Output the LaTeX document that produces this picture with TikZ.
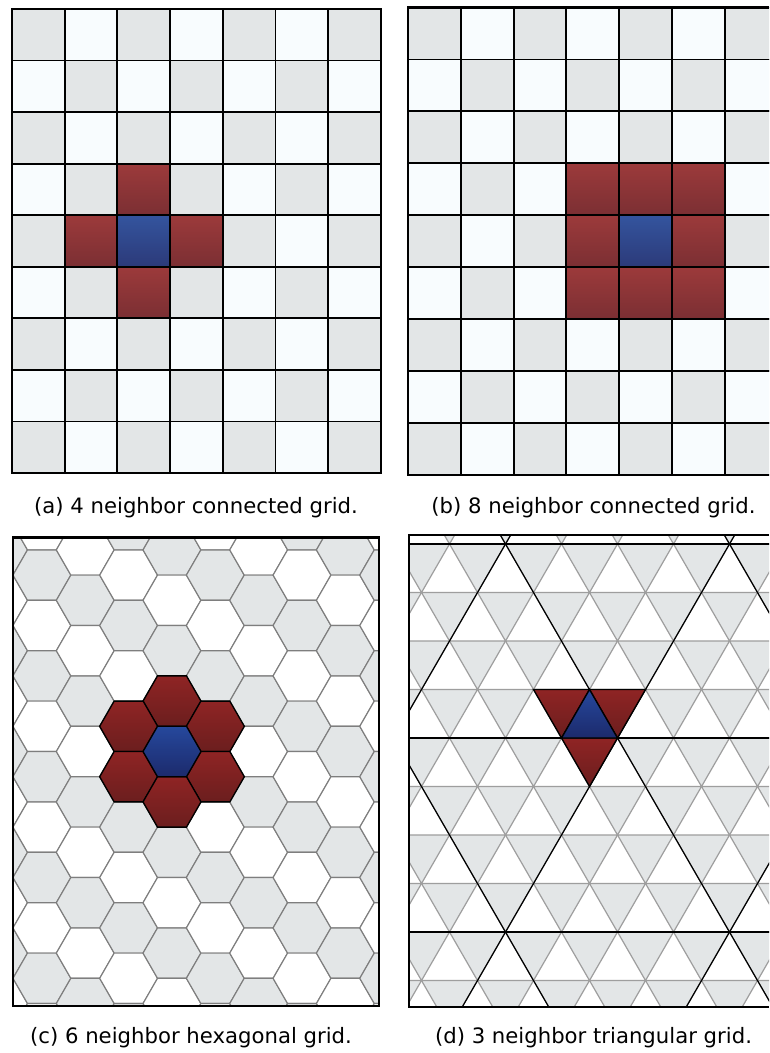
\documentclass[tikz,border=0pt]{standalone}
\usepackage{fontspec}
\setmainfont{DejaVu Sans}
\usepackage{xcolor}
\usepackage{tikz}
\usetikzlibrary{calc}

\definecolor{cellgray}{HTML}{E3E6E7}
\definecolor{cellwhite}{HTML}{F8FCFE}
\definecolor{nbtop}{HTML}{9C3A3B}
\definecolor{nbbot}{HTML}{7B2F33}
\definecolor{ctrtop}{HTML}{34549E}
\definecolor{ctrbot}{HTML}{2C3A79}
\definecolor{hnbtop}{HTML}{8F2424}
\definecolor{hnbbot}{HTML}{6B1E1E}
\definecolor{hctrtop}{HTML}{26489C}
\definecolor{hctrbot}{HTML}{1C2A6C}
\definecolor{edgegray}{HTML}{7E7E7E}
\definecolor{trigray}{HTML}{9E9E9E}

\newcommand{\hexcell}{+(-29,0) -- +(-14.5,-25.2) -- +(14.5,-25.2) -- +(29,0) -- +(14.5,25.2) -- +(-14.5,25.2) -- cycle}

\begin{document}
\begin{tikzpicture}[x=0.75pt, y=-0.75pt,
  caption/.style={font=\fontsize{15.9}{19}\selectfont, anchor=center},
  sqcell/.style={draw=black, line width=1.4pt},
  nbsq/.style={sqcell, top color=nbtop, bottom color=nbbot},
  ctrsq/.style={sqcell, top color=ctrtop, bottom color=ctrbot},
  frame/.style={draw=black, line width=2.2pt},
  hexedge/.style={draw=edgegray, line width=0.9pt},
  nbhex/.style={draw=black, line width=1pt, top color=hnbtop, bottom color=hnbbot},
  ctrhex/.style={draw=black, line width=1pt, top color=hctrtop, bottom color=hctrbot},
  triedge/.style={draw=trigray, line width=0.9pt},
  bigline/.style={draw=black, line width=0.9pt}]
\useasboundingbox (0,0) rectangle (769,1053);
\fill[white] (0,0) rectangle (769,1053);

% (a) 4 neighbours
\foreach \r in {0,...,8}
  \foreach \c in {0,...,6} {
    \pgfmathtruncatemacro\pty{mod(\r+\c,2)}
    \ifnum\pty=0 \def\ccol{cellgray}\else\def\ccol{cellwhite}\fi
    \path[sqcell, fill=\ccol] (12+52.71*\c, 9+51.56*\r) rectangle ++(52.71,51.56);
  }
\foreach \c/\r in {2/3,1/4,3/4,2/5}
  \path[nbsq] (12+52.71*\c, 9+51.56*\r) rectangle ++(52.71,51.56);
\path[ctrsq] (12+52.71*2, 9+51.56*4) rectangle ++(52.71,51.56);
\draw[frame] (12,9) rectangle (381,473);
\node[caption] (capa) at (196,508) {(a) 4 neighbor connected grid.};

% (b) 8 neighbours
\begin{scope}
  \clip (400,0) rectangle (769,480);
  \foreach \r in {0,...,8}
    \foreach \c in {0,...,6} {
      \pgfmathtruncatemacro\pty{mod(\r+\c,2)}
      \ifnum\pty=0 \def\ccol{cellgray}\else\def\ccol{cellwhite}\fi
      \path[sqcell, fill=\ccol] (408+52.8*\c, 7.5+51.94*\r) rectangle ++(52.8,51.94);
    }
  \foreach \c/\r in {3/3,4/3,5/3,3/4,5/4,3/5,4/5,5/5}
    \path[nbsq] (408+52.8*\c, 7.5+51.94*\r) rectangle ++(52.8,51.94);
  \path[ctrsq] (408+52.8*4, 7.5+51.94*4) rectangle ++(52.8,51.94);
\end{scope}
\draw[frame] (769,7.5) -- (408,7.5) -- (408,475) -- (769,475);
\node[caption] (capb) at (593.5,508) {(b) 8 neighbor connected grid.};

% (c) hexagons
\begin{scope}
  \clip (13,537.5) rectangle (379,1006);
  \foreach \c in {-4,...,5}
    \foreach \kk in {-6,...,6} {
      \pgfmathtruncatemacro\kv{2*\kk+mod(\c+4,2)}
      \pgfmathtruncatemacro\tone{mod(\kv-\c+40,4)}
      \ifnum\tone=0 \def\hcol{cellgray}\else\def\hcol{white}\fi
      \path[hexedge, fill=\hcol] (172+43.35*\c, 751.5+25.2*\kv) \hexcell;
    }
  \foreach \c/\kv in {0/-2,-1/-1,1/-1,-1/1,1/1,0/2}
    \path[nbhex] (172+43.35*\c, 751.5+25.2*\kv) \hexcell;
  \path[ctrhex] (172,751.5) \hexcell;
\end{scope}
\draw[frame] (13,537.5) rectangle (379,1006);
\node[caption] (capc) at (191,1038) {(c) 6 neighbor hexagonal grid.};

% (d) triangles
\begin{scope}
  \clip (409,535) rectangle (769,1007);
  \foreach \j in {-1,...,10}
    \foreach \i in {-3,...,5} {
      \pgfmathsetmacro\tx{505.5+56*\i+28*mod(\j+2,2)}
      \path[triedge, fill=cellgray] (\tx, 544+48.5*\j) -- ++(56,0) -- ++(-28,48.5) -- cycle;
    }
  \foreach \yy in {544,738,932}
    \draw[bigline] (400,\yy) -- (780,\yy);
  \foreach \k in {-4,...,2}
    \draw[bigline] (505.5+224*\k-36.95,480) -- (505.5+224*\k+292.1,1050);
  \foreach \k in {-1,...,4}
    \draw[bigline] (505.5+224*\k+36.95,480) -- (505.5+224*\k-292.1,1050);
  \path[nbhex] (533.5,689.5) -- (589.5,689.5) -- (561.5,738) -- cycle;
  \path[nbhex] (589.5,689.5) -- (645.5,689.5) -- (617.5,738) -- cycle;
  \path[nbhex] (561.5,738) -- (617.5,738) -- (589.5,786.5) -- cycle;
  \path[ctrhex] (561.5,738) -- (617.5,738) -- (589.5,689.5) -- cycle;
\end{scope}
\draw[frame] (769,535) -- (409,535) -- (409,1007) -- (769,1007);
\node[caption] (capd) at (593.5,1038) {(d) 3 neighbor triangular grid.};
\end{tikzpicture}
\end{document}
